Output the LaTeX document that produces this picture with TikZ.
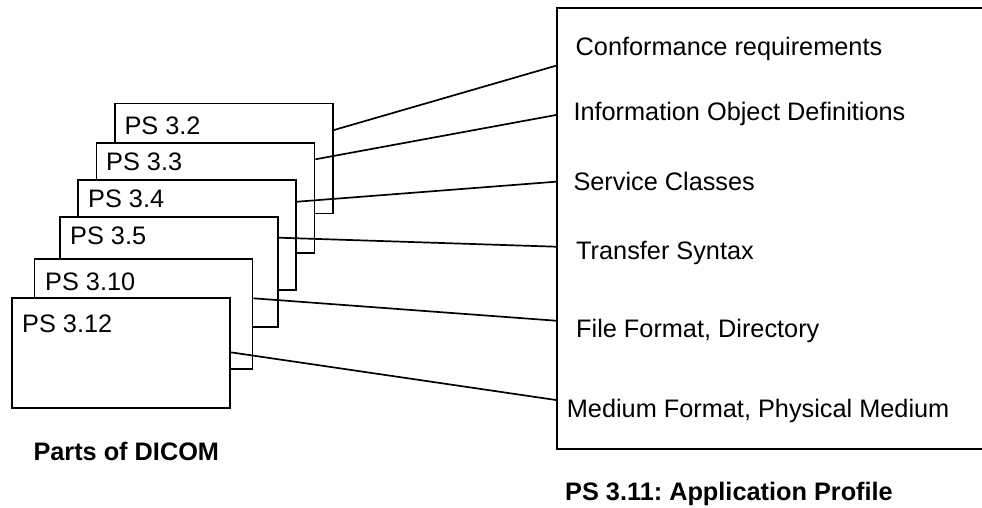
\documentclass[tikz,border=0pt]{standalone}
\usepackage{fontspec}
\setmainfont{Liberation Sans}
\usetikzlibrary{calc}
\frenchspacing
\begin{document}
\begin{tikzpicture}[x=1pt,y=-1pt,
  part/.style={draw,fill=white,line width=1.7pt,anchor=north west,inner sep=0pt,minimum width=218pt,minimum height=110pt},
  lbl/.style={anchor=base west,inner sep=0pt,font=\fontsize{25.3}{30}\selectfont},
  blbl/.style={anchor=base west,inner sep=0pt,font=\fontsize{25.3}{30}\selectfont\bfseries},
  conn/.style={line width=1.7pt}]
\path[use as bounding box,clip] (0,0) rectangle (982,507);
% application profile box (right side runs off the page)
\node[draw,line width=1.7pt,anchor=north west,inner sep=0pt,minimum width=460pt,minimum height=441pt] (app) at (556,7) {};
\node[lbl] (t1) at (575.5,55.7) {Conformance requirements};
\node[lbl] (t2) at (573.3,120.7) {Information Object Definitions};
\node[lbl] (t3) at (573.3,190.7) {Service Classes};
\node[lbl] (t4) at (576,259) {Transfer Syntax};
\node[lbl] (t5) at (576,337.3) {File Format, Directory};
\node[lbl] (t6) at (566.7,417.3) {Medium Format, Physical Medium};
\node[blbl] (cap2) at (565,500.7) {PS 3.11: Application Profile};
% stack of parts
\node[part] (b2) at (114.3,102.7) {};
\node[lbl] at (124.3,134) {PS 3.2};
\node[part] (b3) at (95.7,142.3) {};
\node[lbl] at (106,170.7) {PS 3.3};
\node[part] (b4) at (77.3,179.3) {};
\node[lbl] at (88,207) {PS 3.4};
\node[part] (b5) at (59.3,216) {};
\node[lbl] at (70,244) {PS 3.5};
\node[part] (b10) at (33.7,258.3) {};
\node[lbl] at (45,290.7) {PS 3.10};
\node[part] (b12) at (11,297) {};
\node[lbl] at (22,332) {PS 3.12};
\node[blbl] (cap1) at (33.3,460.7) {Parts of DICOM};
% connectors
\draw[conn] ($(b2.north east)+(0,27.3)$) -- ($(app.north west)+(0,58.7)$);
\draw[conn] ($(b3.north east)+(0,17)$) -- ($(app.north west)+(0,108)$);
\draw[conn] ($(b4.north east)+(0,22.4)$) -- ($(app.north west)+(0,174.7)$);
\draw[conn] ($(b5.north east)+(0,21.7)$) -- ($(app.north west)+(0,239.7)$);
\draw[conn] ($(b10.north east)+(0,40)$) -- ($(app.north west)+(0,313.7)$);
\draw[conn] ($(b12.north east)+(0,55.3)$) -- ($(app.north west)+(0,393)$);
\end{tikzpicture}
\end{document}
